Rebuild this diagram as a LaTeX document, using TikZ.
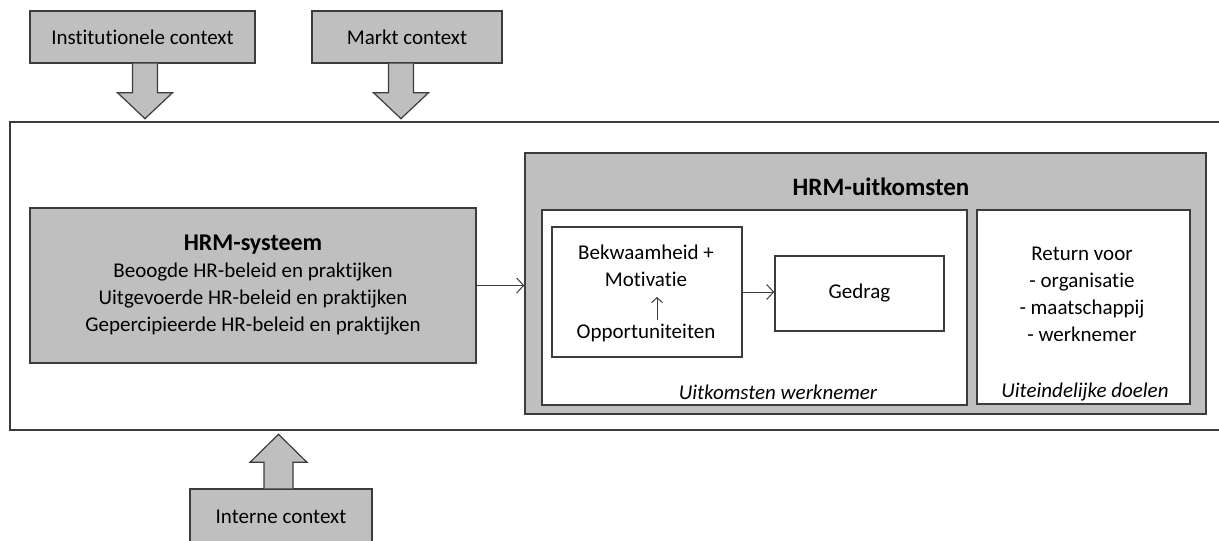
\documentclass[tikz,border=0pt]{standalone}
\usepackage{fontspec}
\setmainfont{Carlito}[Ligatures=NoCommon]
\usetikzlibrary{positioning,arrows.meta}

\definecolor{boxgray}{RGB}{191,191,191}
\definecolor{edgegray}{RGB}{60,60,60}

\begin{document}
\begin{tikzpicture}[x=1pt,y=-1pt,
  every node/.style={font=\fontsize{21}{27}\selectfont},
  graybox/.style={draw=edgegray, line width=1.4pt, fill=boxgray, inner sep=0pt},
  whitebox/.style={draw=edgegray, line width=1.4pt, fill=white, inner sep=0pt},
  blockarrow/.style={draw=edgegray, line width=1.2pt, fill=boxgray},
  flow/.style={-{Straight Barb[length=7pt,width=15pt]}, line width=1pt, draw=edgegray}]

\useasboundingbox (0,0) rectangle (1219,541);

% Outer frame
\draw[line width=1.4pt, draw=edgegray] (1219,122) -- (10,122) -- (10,430) -- (1219,430);

% Context boxes
\node[graybox, minimum width=225, minimum height=52] (inst) at (142.5,37) {Institutionele context};
\node[graybox, minimum width=190, minimum height=52] (markt) at (407,37) {Markt context};
\node[graybox, minimum width=182, minimum height=56] (intern) at (281,517) {Interne context};

% Block arrows
\draw[blockarrow] ([xshift=-10pt]inst.south) -- ++(0,29) -- ++(-15,0) -- ++(27.5,26) -- ++(27.5,-26) -- ++(-15,0) -- ++(0,-29);
\draw[blockarrow] ([xshift=-18.5pt]markt.south) -- ++(0,29) -- ++(-15,0) -- ++(27.5,26) -- ++(27.5,-26) -- ++(-15,0) -- ++(0,-29);
\draw[blockarrow] ([xshift=-17pt]intern.north) -- ++(0,-26) -- ++(-14,0) -- ++(28.5,-28) -- ++(28.5,28) -- ++(-14,0) -- ++(0,26);

% HRM-systeem
\node[graybox, minimum width=446, minimum height=155, align=center] (hrmsys) at (253,285.5)
  {{\fontsize{24}{27}\selectfont\bfseries HRM-systeem}\\Beoogde HR-beleid en praktijken\\Uitgevoerde HR-beleid en praktijken\\Gepercipieerde HR-beleid en praktijken};

% HRM-uitkomsten
\node[graybox, minimum width=681, minimum height=261] (uitk) at (865.5,283.5) {};
\node[font=\fontsize{25}{27}\selectfont\bfseries] (uitktitle) at (881,187) {HRM-uitkomsten};
\node[whitebox, minimum width=425, minimum height=195] (werkn) at (754.5,307.5) {};
\node[whitebox, minimum width=213, minimum height=194] (doelen) at (1083.5,307) {};

% Uitkomsten werknemer
\node[whitebox, minimum width=190, minimum height=130] (bekw) at (647,292) {};
\node[align=center] (motiv) at (646,266) {Bekwaamheid +\\Motivatie};
\node (opport) at (646,333) {Opportuniteiten};
\coordinate (oppTop) at (657,320);
\coordinate (motBot) at (657,297);
\node[whitebox, minimum width=169, minimum height=75] (gedrag) at (859.5,293.5) {Gedrag};
\node (werknlabel) at (778,392) {\itshape Uitkomsten werknemer};

% Uiteindelijke doelen
\node[align=center] (return) at (1082,294) {Return voor\\- organisatie\\- maatschappij\\- werknemer};
\node (doelenlabel) at (1085,392) {\itshape Uiteindelijke doelen};

% Arrows
\draw[flow] (hrmsys.east) -- (hrmsys.east -| uitk.west);
\draw[flow] (bekw.east) -- (bekw.east -| gedrag.west);
\draw[flow, -{Straight Barb[length=5pt,width=11pt]}] (oppTop) -- (motBot);

\end{tikzpicture}
\end{document}
